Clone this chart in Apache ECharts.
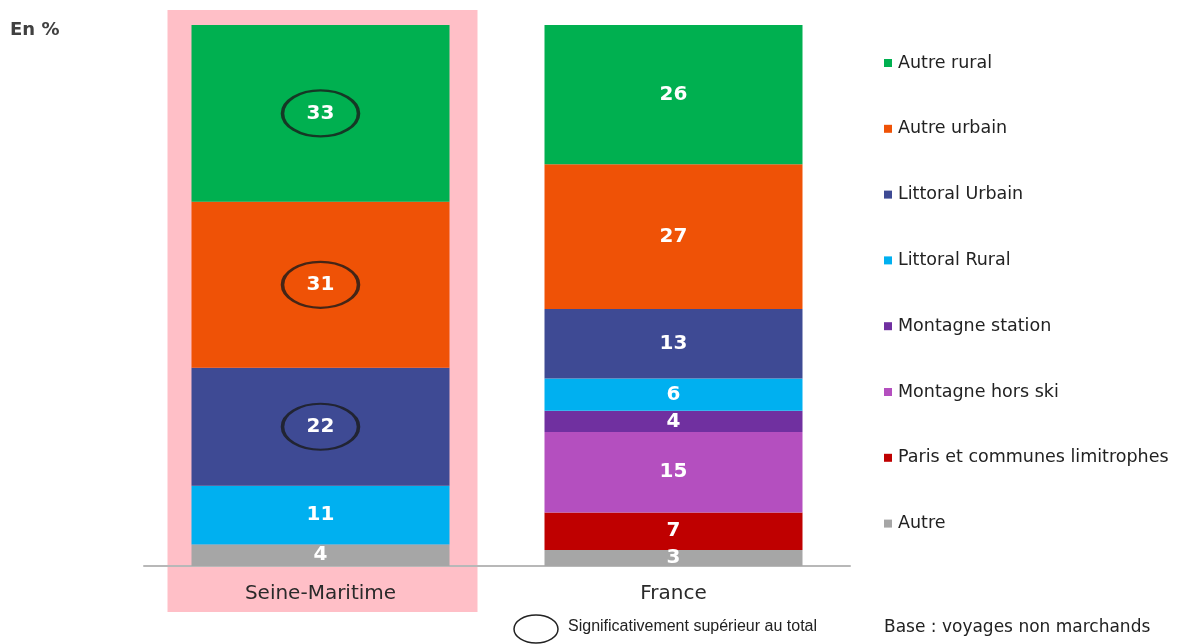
<!DOCTYPE html>
<html>
<head>
<meta charset="utf-8">
<script src="https://cdn.jsdelivr.net/npm/echarts@6/dist/echarts.min.js"></script>
<style>
  html, body { margin: 0; padding: 0; background: #fff; }
  #main { width: 1182px; height: 644px; }
</style>
</head>
<body>
<div id="main"></div>
<script>
var categories = ['Seine-Maritime', 'France'];

// bottom to top of the stack
var autre = [4, 3];
var paris = [null, 7];
var montagneHorsSki = [null, 15];
var montagneStation = [null, 4];
var littoralRural = [11, 6];
var littoralUrbain = [22, 13];
var autreUrbain = [31, 27];
var autreRural = [33, 26];

// significantly above total (circled), per category
var significatif = {
  'Littoral Urbain': [true, false],
  'Autre urbain': [true, false],
  'Autre rural': [true, false]
};

var legendOrder = ['Autre rural', 'Autre urbain', 'Littoral Urbain', 'Littoral Rural',
  'Montagne station', 'Montagne hors ski', 'Paris et communes limitrophes', 'Autre'];

var stackDefs = [
  ['Autre', autre, '#a6a6a6'],
  ['Paris et communes limitrophes', paris, '#bf0000'],
  ['Montagne hors ski', montagneHorsSki, '#b44fbf'],
  ['Montagne station', montagneStation, '#7030a0'],
  ['Littoral Rural', littoralRural, '#00b0f0'],
  ['Littoral Urbain', littoralUrbain, '#3e4a94'],
  ['Autre urbain', autreUrbain, '#ef5206'],
  ['Autre rural', autreRural, '#00b050']
];

var chartDom = document.getElementById('main');
var myChart = echarts.init(chartDom);

var series = [];
var base = [0, 0];
var circled = [];
stackDefs.forEach(function (d) {
  var name = d[0], values = d[1], flags = significatif[name] || [];
  series.push({
    name: name,
    type: 'bar',
    stack: 'total',
    barWidth: 258,
    itemStyle: { color: d[2] },
    label: {
      show: true,
      position: 'inside',
      color: '#fff',
      fontFamily: 'DejaVu Sans',
      fontWeight: 'bold',
      fontSize: 20
    },
    data: values
  });
  values.forEach(function (v, i) {
    if (v == null) return;
    if (flags[i]) circled.push([categories[i], base[i] + v / 2]);
    base[i] += v;
  });
});

// ellipses around significant values
series.push({
  name: 'significatif',
  type: 'scatter',
  symbol: 'circle',
  symbolSize: [76, 46],
  z: 5,
  silent: true,
  itemStyle: { color: 'rgba(0,0,0,0)', borderColor: '#1a1a1a', borderWidth: 2.8 },
  data: circled
});

var option = {
  animation: false,
  textStyle: { fontFamily: 'DejaVu Sans' },
  grid: { left: 144, right: 332, top: 25, bottom: 78 },
  legend: {
    orient: 'vertical',
    left: 879,
    top: 49,
    itemGap: 47.8,
    itemWidth: 8,
    itemHeight: 8,
    icon: 'rect',
    data: legendOrder,
    textStyle: { fontSize: 17.5, color: '#222', fontFamily: 'DejaVu Sans', padding: [0, 0, 0, 1] }
  },
  xAxis: {
    type: 'category',
    data: categories,
    axisLine: { lineStyle: { color: '#b8b8b8', width: 2 } },
    axisTick: { show: false },
    axisLabel: { fontSize: 20, color: '#2a2a2a', margin: 18 }
  },
  yAxis: {
    type: 'value',
    min: 0,
    max: 101,
    show: false,
    splitLine: { show: false }
  },
  series: series
};

myChart.setOption(option);

// pink highlight behind the Seine-Maritime column
var cx = myChart.convertToPixel({ xAxisIndex: 0 }, 'Seine-Maritime');
myChart.setOption({
  graphic: [
    {
      type: 'rect', z: -10, silent: true,
      shape: { x: cx - 153, y: 10, width: 310, height: 602 },
      style: { fill: '#ffbfc7' }
    },
    {
      type: 'text', left: 10, top: 21,
      style: { text: 'En %', fontSize: 18, fontWeight: 'bold', fill: '#404040', fontFamily: 'DejaVu Sans' }
    },
    {
      type: 'ellipse',
      shape: { cx: 536, cy: 629, rx: 22, ry: 14 },
      style: { fill: 'none', stroke: '#222', lineWidth: 1.5 }
    },
    {
      type: 'text', left: 568, top: 619,
      style: { text: 'Significativement supérieur au total', fontSize: 16, fill: '#222', fontFamily: 'Liberation Sans Narrow, Liberation Sans' }
    },
    {
      type: 'text', left: 884, top: 619,
      style: { text: 'Base : voyages non marchands', fontSize: 17, fill: '#222', fontFamily: 'DejaVu Sans' }
    }
  ]
});
</script>
</body>
</html>
